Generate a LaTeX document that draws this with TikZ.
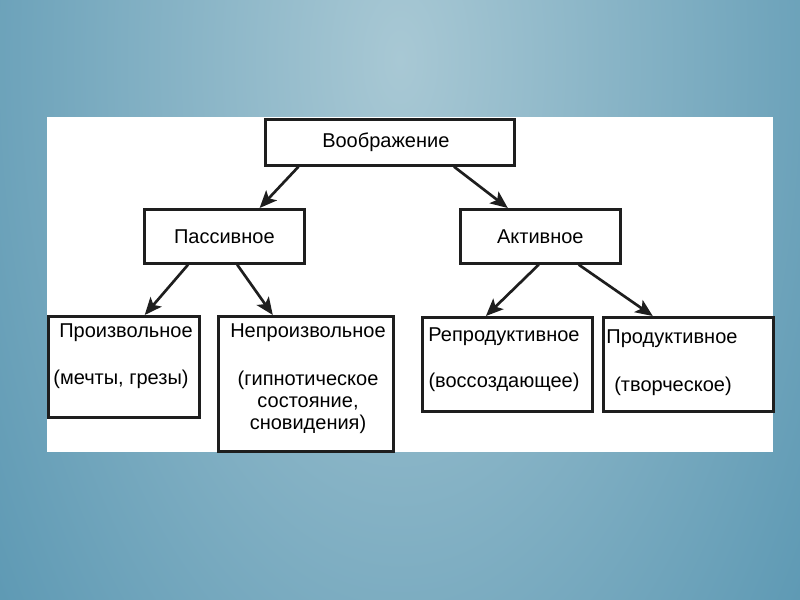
\documentclass[tikz,border=0pt]{standalone}
\usepackage{fontspec}
\setmainfont{Liberation Sans}
\usetikzlibrary{arrows.meta,calc}
\definecolor{bgin}{RGB}{168,200,212}
\definecolor{bgout}{RGB}{76,142,172}
\definecolor{ink}{RGB}{30,30,30}

\begin{document}
\begin{tikzpicture}[x=0.75pt,y=0.75pt,yscale=-1,xscale=1,
  box/.style={draw=ink, line width=2pt, fill=white, inner sep=0pt, anchor=north west, font=\fontsize{15}{18}\selectfont},
  txt/.style={inner sep=0.75pt, align=center, font=\fontsize{15}{16.5}\selectfont},
  arr/.style={draw=ink, line width=2pt, -{Stealth[length=13pt,width=11pt,inset=3pt]}}]
\useasboundingbox (0,0) rectangle (800,600);

%Background
\begin{scope}
\clip (0,0) rectangle (800,600);
\shade [inner color=bgin, outer color=bgout] (400,60) ellipse (620 and 1150);
\end{scope}
%Shape: Rectangle (white panel)
\fill [white] (47,117) rectangle (773,452);

%Boxes
\node [box, minimum width=186.75pt, minimum height=34.5pt] (voobr) at (264,118) {Воображение\hspace*{6pt}};
\node [box, minimum width=120pt, minimum height=40.5pt] (passiv) at (143,208) {Пассивное};
\node [box, minimum width=120pt, minimum height=40.5pt] (aktiv) at (459,208) {Активное};
\node [box, minimum width=113.25pt, minimum height=75.75pt] (proizv) at (47,315) {};
\node [box, minimum width=131.25pt, minimum height=101.25pt] (neproizv) at (217,315) {};
\node [box, minimum width=127.5pt, minimum height=70.5pt] (repr) at (421,316) {};
\node [box, minimum width=127.5pt, minimum height=70.5pt] (prod) at (602,316) {};

% Text Node
\node [txt] (proizvA) at (126,333) {Произвольное};
\node [txt] (proizvB) at (121,379) {(мечты, грезы)};
\node [txt] (neproizvA) at (308,333) {Непроизвольное};
\node [txt] (neproizvB) at (308,402) {(гипнотическое\\состояние,\\сновидения)};
\node [txt] (reprA) at (504,337) {Репродуктивное};
\node [txt] (reprB) at (504,382) {(воссоздающее)};
\node [txt] (prodA) at (672,339) {Продуктивное};
\node [txt] (prodB) at (673,386) {(творческое)};

%Arrows
\draw [arr] ($(voobr.south west)!0.137!(voobr.south east)$) -- ($(passiv.north west)!0.717!(passiv.north east)$);
\draw [arr] ($(voobr.south west)!0.755!(voobr.south east)$) -- ($(aktiv.north west)!0.30!(aktiv.north east)$);
\draw [arr] ($(passiv.south west)!0.277!(passiv.south east)$) -- ($(proizv.north west)!0.636!(proizv.north east)$);
\draw [arr] ($(passiv.south west)!0.579!(passiv.south east)$) -- ($(neproizv.north west)!0.314!(neproizv.north east)$);
\draw [arr] ($(aktiv.south west)!0.49!(aktiv.south east)$) -- ($(repr.north west)!0.376!(repr.north east)$);
\draw [arr] ($(aktiv.south west)!0.736!(aktiv.south east)$) -- ($(prod.north west)!0.294!(prod.north east)$);

\end{tikzpicture}
\end{document}
